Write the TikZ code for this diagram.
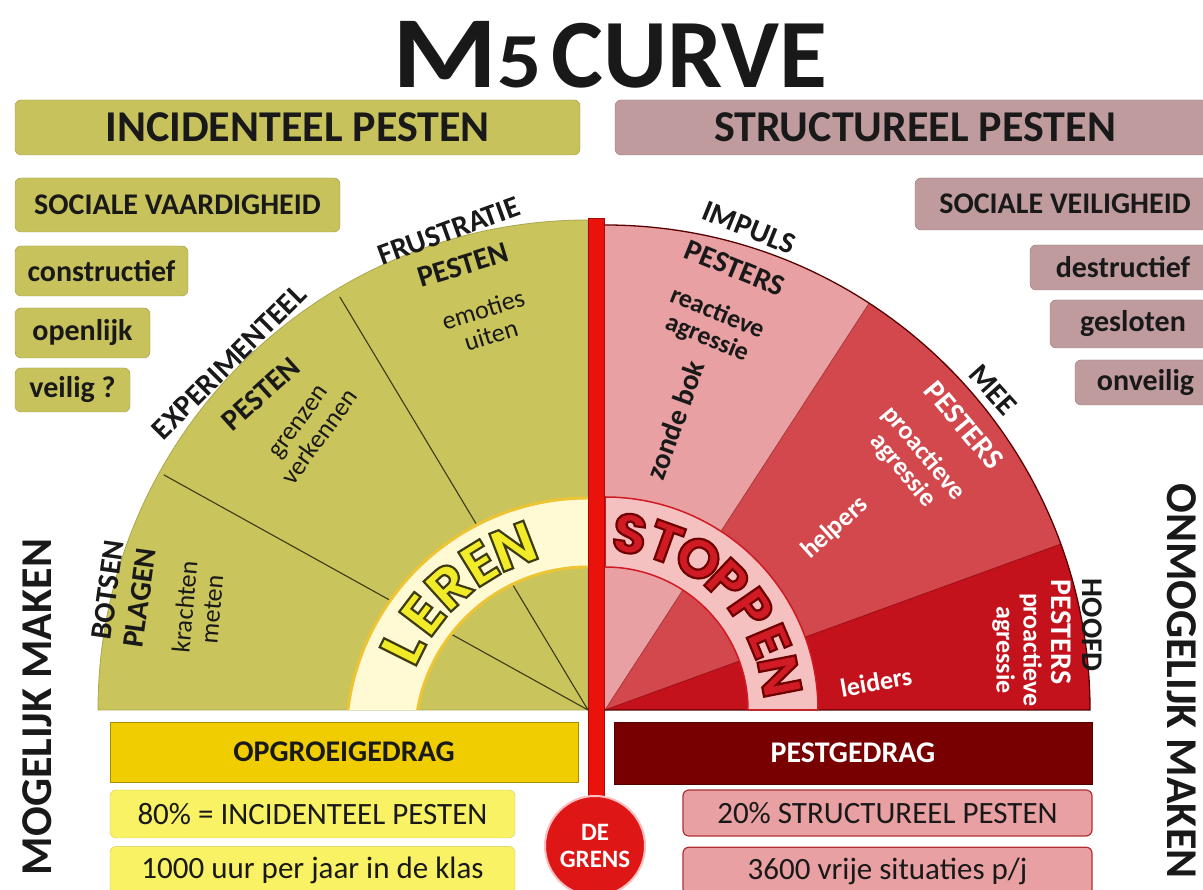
\documentclass[tikz,border=0pt]{standalone}
\usepackage{fontspec}
\usepackage{graphicx}
\setmainfont{Carlito}
\newfontfamily\ringfont{Poppins}
\usetikzlibrary{shapes,positioning}
\definecolor{fanolive}{RGB}{201,196,92}
\definecolor{boxolive}{RGB}{199,194,92}
\definecolor{boxmauve}{RGB}{192,155,157}
\definecolor{mauveedge}{RGB}{150,118,120}
\definecolor{lerenring}{RGB}{255,250,212}
\definecolor{lerenedge}{RGB}{236,196,52}
\definecolor{lerenletter}{RGB}{242,236,40}
\definecolor{lerenline}{RGB}{60,58,20}
\definecolor{barred}{RGB}{234,18,10}
\definecolor{impulspink}{RGB}{232,160,162}
\definecolor{meered}{RGB}{210,72,76}
\definecolor{hoofdred}{RGB}{196,18,28}
\definecolor{stopring}{RGB}{245,192,192}
\definecolor{stopletter}{RGB}{208,26,36}
\definecolor{goldbar}{RGB}{240,205,0}
\definecolor{lightyellow}{RGB}{248,242,100}
\definecolor{pestbar}{RGB}{120,0,0}
\definecolor{pinkbox}{RGB}{232,160,162}
\definecolor{pinkedge}{RGB}{178,48,52}
\definecolor{grensred}{RGB}{222,22,22}
\definecolor{ink}{RGB}{25,25,25}
\newcommand{\outlined}[3]{\textcolor{#1}{\special{pdf:literal direct 2 Tr 2.2 w #2 RG}#3\special{pdf:literal direct 0 Tr}}}
\tikzset{
	left box/.style={draw=boxolive!80!black, fill=boxolive, rounded corners=6pt, inner sep=0pt, text=ink},
	right box/.style={draw=mauveedge, fill=boxmauve, rounded corners=6pt, inner sep=0pt, text=ink},
	head font/.style={font=\fontsize{44}{44}\selectfont\bfseries},
	small font/.style={font=\fontsize{30}{30}\selectfont\bfseries},
	fan label/.style={font=\fontsize{30}{30}\selectfont\bfseries, inner sep=0pt, text=ink},
	fan text/.style={font=\fontsize{26}{27}\selectfont, align=center, inner sep=0pt, text=ink},
	red text/.style={font=\fontsize{26}{27}\selectfont\bfseries, align=center, inner sep=0pt, text=ink},
	white text/.style={font=\fontsize{26}{27}\selectfont\bfseries, align=center, inner sep=0pt, text=white},
	side text/.style={font=\fontsize{44}{44}\selectfont\bfseries, inner sep=0pt, text=ink},
	ring letter/.style={font=\fontsize{58}{58}\selectfont\ringfont\bfseries, inner sep=0pt},
	stop letter/.style={font=\fontsize{55}{55}\selectfont\ringfont\bfseries, inner sep=0pt}
}

\begin{document}
\begin{tikzpicture}[x=1pt,y=1pt]
	\useasboundingbox (0,0) rectangle (1203,890);
	\clip (0,0) rectangle (1203,890);
	\fill[white] (0,0) rectangle (1203,890);
	\coordinate (lc) at (588,180);
	\coordinate (rc) at (605,180);
	\coordinate (lerenc) at (588,150);

	% title and headers
	\node[text=ink, inner sep=0pt] (title) at (610,835) {{\fontsize{102}{102}\selectfont\bfseries\scalebox{1.18}[1]{M}}{\fontsize{78}{78}\selectfont\bfseries\scalebox{1.12}[1]{5}}\hspace{10pt}{\fontsize{98}{98}\selectfont\bfseries CURVE}};
	\node[left box, head font, minimum width=565pt, minimum height=55pt] (incid) at (297.5,762.5) {INCIDENTEEL PESTEN};
	\node[right box, head font, minimum width=600pt, minimum height=55pt] (struct) at (915,762.5) {STRUCTUREEL PESTEN};

	\node[left box, small font, minimum width=325pt, minimum height=54pt] (vaard) at (177.5,685) {SOCIALE VAARDIGHEID};
	\node[left box, small font, minimum width=173pt, minimum height=50pt] (constr) at (101.5,619) {constructief};
	\node[left box, small font, minimum width=135pt, minimum height=50pt] (open) at (82.5,557) {openlijk};
	\node[left box, small font, minimum width=115pt, minimum height=44pt] (veilig) at (72.5,500) {veilig ?};

	\node[right box, small font, minimum width=300pt, minimum height=52pt] (veiligh) at (1065,686) {SOCIALE VEILIGHEID\hspace{4pt}};
	\node[right box, small font, minimum width=186pt, minimum height=45pt] (destr) at (1123,622.5) {destructief\hspace{6pt}};
	\node[right box, small font, minimum width=166pt, minimum height=48pt] (geslot) at (1133,566) {gesloten\hspace{6pt}};
	\node[right box, small font, minimum width=141pt, minimum height=45pt] (onveil) at (1145.5,507.5) {onveilig\hspace{6pt}};

	% left fan
	\filldraw[fill=fanolive, draw=fanolive!85!black, line width=0.8pt] (lc) -- (98,180) arc (180:90:490) -- cycle;
	\draw[lerenline, line width=1.1pt] (lc) -- ++(121:482);
	\draw[lerenline, line width=1.1pt] (lc) -- ++(151:485);
	\begin{scope}
		\clip (98,180) rectangle (588,700);
		\fill[lerenring, even odd rule] (lerenc) circle (242) (lerenc) circle (173);
		\draw[lerenedge, line width=3pt] (lerenc) circle (242) (lerenc) circle (173);
	\end{scope}
	\foreach \ch/\ang [count=\i] in {L/153.4,E/142.8,R/132.2,E/121.6,N/111}
		\node[ring letter, rotate=\ang-90] (leren\i) at ([shift={(\ang:207.5)}]lerenc) {\outlined{lerenletter}{0.24 0.23 0.08}{\ch}};

	% right fan
	\fill[impulspink] (rc) -- ++(90:485) arc (90:57:485) -- cycle;
	\fill[meered] (rc) -- ++(57:485) arc (57:20:485) -- cycle;
	\fill[hoofdred] (rc) -- ++(20:485) arc (20:0:485) -- cycle;
	\draw[meered!80!black, line width=0.8pt] (rc) -- ++(57:485);
	\draw[hoofdred!80!black, line width=0.8pt] (rc) -- ++(20:485);
	\draw[red!35!black, line width=1.3pt] (rc) -- ++(0:485) arc (0:90:485);
	\filldraw[fill=stopring, draw=stopletter, line width=1.5pt] (818,180) arc (0:90:213) -- (605,323) arc (90:0:143) -- cycle;
	\foreach \ch/\ang [count=\i] in {S/82,T/70.2,O/58.3,P/46.5,P/34.7,E/22.8,N/11}
		\node[stop letter, rotate=\ang-90] (stop\i) at ([shift={(\ang:178)}]rc) {\outlined{stopletter}{0.43 0 0}{\ch}};

	% de grens
	\filldraw[fill=barred, draw=barred!70!black, line width=0.8pt] (588,70) rectangle (604,672);
	\node[circle, fill=grensred, draw=red!25!white, line width=2pt, minimum size=100pt, inner sep=0pt, align=center, text=white, font=\fontsize{25}{27}\selectfont\bfseries] (grens) at (595,44) {DE\\GRENS};

	% fan labels
	\node[fan label, rotate=82] (botsen) at (108,300) {BOTSEN};
	\node[fan label, rotate=82] (plagen) at (140,292) {PLAGEN};
	\node[fan text, rotate=85] (kracht) at (198,282) {krachten\\meten};
	\node[fan label, rotate=45] (exper) at (229,528) {EXPERIMENTEEL};
	\node[fan label, rotate=42] (pestexp) at (261,496) {PESTEN};
	\node[fan text, rotate=54] (grenzen) at (310,460) {grenzen\\verkennen};
	\node[fan label, rotate=20] (frust) at (449,659) {FRUSTRATIE};
	\node[fan label, rotate=17] (pestfrus) at (463,625) {PESTEN};
	\node[fan text, rotate=17] (emoties) at (487,568) {emoties\\uiten};

	\node[fan label, rotate=-22] (impuls) at (749,662) {IMPULS};
	\node[fan label, rotate=-22] (pestimp) at (735,622) {PESTERS};
	\node[red text, rotate=-22] (reactief) at (712,564) {reactieve\\agressie};
	\node[red text, font=\fontsize{29}{29}\selectfont\bfseries, rotate=70] (zonde) at (675,470) {zonde bok};
	\node[fan label, rotate=-48] (mee) at (993,500) {MEE};
	\node[white text, font=\fontsize{30}{30}\selectfont\bfseries, rotate=-50] (pestmee) at (964,465) {PESTERS};
	\node[white text, rotate=-50] (proamee) at (913,428) {proactieve\\agressie};
	\node[white text, rotate=42] (helpers) at (835,362) {helpers};
	\node[fan label, rotate=-90] (hoofd) at (1092,265) {HOOFD};
	\node[white text, font=\fontsize{30}{30}\selectfont\bfseries, rotate=-90] (pesthoofd) at (1061,258) {PESTERS};
	\node[white text, rotate=-90] (proahoofd) at (1017,240) {proactieve\\agressie};
	\node[white text, rotate=10] (leiders) at (876,208) {leiders};

	% side texts
	\node[side text, rotate=90] (mogelijk) at (37,183) {MOGELIJK MAKEN};
	\node[side text, rotate=-90] (onmogelijk) at (1182,209) {ONMOGELIJK MAKEN};

	% bottom bars
	\node[draw=goldbar!70!black, fill=goldbar, minimum width=468pt, minimum height=60pt, inner sep=0pt, text=ink, small font] (opgroei) at (344,138) {OPGROEIGEDRAG};
	\node[draw=lightyellow!85!black, fill=lightyellow, rounded corners=6pt, minimum width=405pt, minimum height=48pt, inner sep=0pt, text=ink, font=\fontsize{31}{31}\selectfont] (pct80) at (312.5,76) {80\% = INCIDENTEEL PESTEN};
	\node[draw=lightyellow!85!black, fill=lightyellow, rounded corners=6pt, minimum width=405pt, minimum height=48pt, inner sep=0pt, text=ink, font=\fontsize{31}{31}\selectfont, below=8pt of pct80] (uur) {1000 uur per jaar in de klas};
	\node[draw=pestbar!70!black, fill=pestbar, minimum width=478pt, minimum height=62pt, inner sep=0pt, text=white, small font] (pestgedrag) at (853,137) {PESTGEDRAG};
	\node[draw=pinkedge, fill=pinkbox, rounded corners=6pt, line width=1.2pt, minimum width=409pt, minimum height=46pt, inner sep=0pt, text=ink, font=\fontsize{31}{31}\selectfont] (pct20) at (887.5,77) {20\% STRUCTUREEL PESTEN};
	\node[draw=pinkedge, fill=pinkbox, rounded corners=6pt, line width=1.2pt, minimum width=409pt, minimum height=48pt, inner sep=0pt, text=ink, font=\fontsize{31}{31}\selectfont, below=10pt of pct20] (vrij) {3600 vrije situaties p/j};
\end{tikzpicture}
\end{document}
